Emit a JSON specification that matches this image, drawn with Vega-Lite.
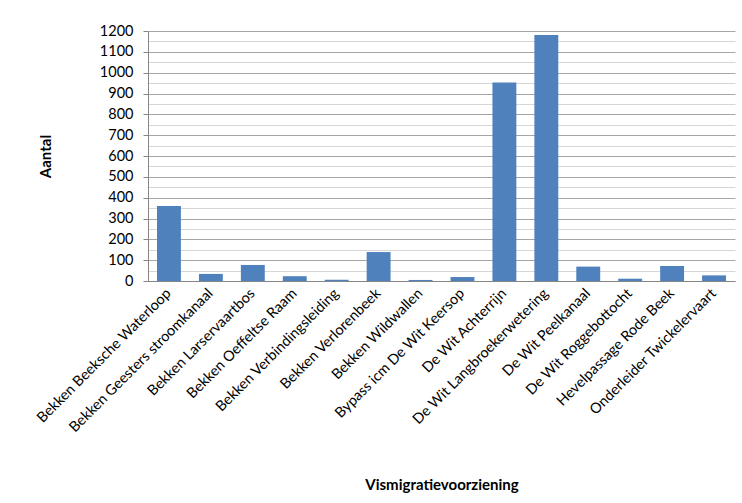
{
  "$schema": "https://vega.github.io/schema/vega-lite/v6.json",
  "autosize": {"type": "none"},
  "width": 587,
  "height": 250,
  "padding": {"left": 148, "top": 31, "right": 7, "bottom": 222},
  "background": "white",
  "config": {
    "font": "Lato",
    "view": {"stroke": null},
    "axis": {
      "labelFont": "Lato",
      "labelFontSize": 14.5,
      "labelColor": "#000000",
      "labelLimit": 400,
      "titleFont": "Lato",
      "titleFontSize": 15,
      "titleFontWeight": "bold",
      "titleColor": "#000000",
      "domainColor": "#868686",
      "tickColor": "#868686"
    }
  },
  "data": {
    "values": [
      {"voorziening": "Bekken Beeksche Waterloop", "aantal": 360},
      {"voorziening": "Bekken Geesters stroomkanaal", "aantal": 34},
      {"voorziening": "Bekken Larservaartbos", "aantal": 77},
      {"voorziening": "Bekken Oeffeltse Raam", "aantal": 23},
      {"voorziening": "Bekken Verbindingsleiding", "aantal": 6},
      {"voorziening": "Bekken Verlorenbeek", "aantal": 139},
      {"voorziening": "Bekken Wildwallen", "aantal": 5},
      {"voorziening": "Bypass icm De Wit Keersop", "aantal": 19},
      {"voorziening": "De Wit Achterrijn", "aantal": 953},
      {"voorziening": "De Wit Langbroekerwetering", "aantal": 1181},
      {"voorziening": "De Wit Peelkanaal", "aantal": 69},
      {"voorziening": "De Wit Roggebottocht", "aantal": 11},
      {"voorziening": "Hevelpassage Rode Beek", "aantal": 72},
      {"voorziening": "Onderleider Twickelervaart", "aantal": 27}
    ]
  },
  "mark": {"type": "bar", "color": "#4F81BD"},
  "encoding": {
    "x": {
      "field": "voorziening",
      "type": "nominal",
      "sort": null,
      "scale": {"paddingInner": 0.43, "paddingOuter": 0.215},
      "axis": {
        "title": "Vismigratievoorziening",
        "labelAngle": -45,
        "labelAlign": "right",
        "labelBaseline": "middle",
        "labelPadding": 10,
        "ticks": false,
        "titlePadding": 43
      }
    },
    "y": {
      "field": "aantal",
      "type": "quantitative",
      "scale": {"domain": [0, 1200], "nice": false},
      "axis": {
        "title": "Aantal",
        "values": [0, 50, 100, 150, 200, 250, 300, 350, 400, 450, 500, 550, 600, 650, 700, 750, 800, 850, 900, 950, 1000, 1050, 1100, 1150, 1200],
        "labelExpr": "datum.value % 100 === 0 ? datum.label : ''",
        "format": "d",
        "tickSize": 5,
        "tickColor": {"condition": {"test": "datum.value % 100 === 0", "value": "#868686"}, "value": "transparent"},
        "gridColor": {"condition": {"test": "datum.value % 100 === 0", "value": "#a6a6a6"}, "value": "#d6d6d6"},
        "labelPadding": 10,
        "titlePadding": 46
      }
    }
  }
}
